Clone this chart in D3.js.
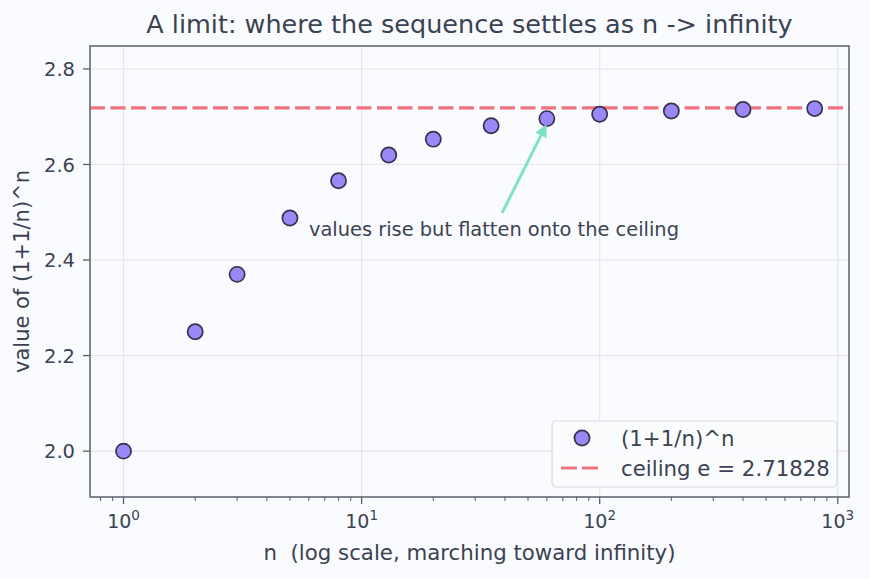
<!DOCTYPE html>
<html>
<head>
<meta charset="utf-8">
<script src="https://cdn.jsdelivr.net/npm/d3@7"></script>
<style>
  body { margin: 0; background: #fafbfe; }
  svg { display: block; font-family: "DejaVu Sans", sans-serif; }
</style>
</head>
<body>
<svg id="chart" width="870" height="579"></svg>
<script>
// values
var n_values   = [1, 2, 3, 5, 8, 13, 20, 35, 60, 100, 200, 400, 800]
var seq_values = [2.0, 2.25, 2.370, 2.488, 2.566, 2.620, 2.653, 2.681, 2.696, 2.705, 2.712, 2.715, 2.717]
var e_value    = 2.71828
var y_ticks    = [2.0, 2.2, 2.4, 2.6, 2.8]
var x_ticks    = [1, 10, 100, 1000]
var x_exps     = ["0", "1", "2", "3"]

var margin = {left: 90, right: 21, top: 46, bottom: 82},
    width  = 870 - margin.left - margin.right,
    height = 579 - margin.top - margin.bottom

var ink = "#3b4252", spine = "#5a5f6b", grid = "#e3e5ea"
var dash = "15,5.5"

var svg = d3.select("#chart")
var g = svg.append("g").attr("transform", "translate(" + margin.left + "," + margin.top + ")")

var x_scale = d3.scaleLog().domain([0.723, 1115]).range([0, width]),
    y_scale = d3.scaleLinear().domain([1.904, 2.848]).range([height, 0])

// grid
g.selectAll(".gx").data(x_ticks).enter().append("line")
  .attr("x1", d=>x_scale(d)).attr("x2", d=>x_scale(d))
  .attr("y1", 0).attr("y2", height)
  .style("stroke", grid).style("stroke-width", 1.1)
g.selectAll(".gy").data(y_ticks).enter().append("line")
  .attr("x1", 0).attr("x2", width)
  .attr("y1", d=>y_scale(d)).attr("y2", d=>y_scale(d))
  .style("stroke", grid).style("stroke-width", 1.1)

// minor ticks on log x
var minor = []
for (var dec = 0.1; dec < 1000; dec *= 10) {
	for (var k = 2; k <= 9; k++) {
		var v = dec * k
		if (v > x_scale.domain()[0] && v < x_scale.domain()[1]) minor.push(v)
	}
}
g.selectAll(".minor").data(minor).enter().append("line")
  .attr("x1", d=>x_scale(d)).attr("x2", d=>x_scale(d))
  .attr("y1", height).attr("y2", height + 4)
  .style("stroke", spine).style("stroke-width", 1)

// x axis major ticks and labels
var xt = g.selectAll(".xt").data(x_ticks).enter().append("g")
  .attr("transform", d=>"translate(" + x_scale(d) + "," + height + ")")
xt.append("line").attr("y2", 7).style("stroke", spine).style("stroke-width", 1.3)
var xl = xt.append("text").attr("y", 31).attr("text-anchor", "middle")
  .style("fill", ink).style("font-size", "19px")
xl.append("tspan").text("10")
xl.append("tspan").attr("dy", -8).style("font-size", "13.5px").text((d, i)=>x_exps[i])

// y axis ticks
var yt = g.selectAll(".yt").data(y_ticks).enter().append("g")
  .attr("transform", d=>"translate(0," + y_scale(d) + ")")
yt.append("line").attr("x2", -7).style("stroke", spine).style("stroke-width", 1.3)
yt.append("text").attr("x", -15).attr("dy", "0.36em").attr("text-anchor", "end")
  .style("fill", ink).style("font-size", "19.5px")
  .text(d=>d.toFixed(1))

// ceiling
g.append("line")
  .attr("x1", 0).attr("x2", width)
  .attr("y1", y_scale(e_value)).attr("y2", y_scale(e_value))
  .style("stroke", "#f0717f").style("stroke-width", 3.2)
  .style("stroke-dasharray", dash)

// points
g.selectAll(".pt").data(n_values).enter().append("circle")
  .attr("cx", d=>x_scale(d))
  .attr("cy", (d, i)=>y_scale(seq_values[i]))
  .attr("r", 7.6)
  .style("fill", "#9b87f5")
  .style("stroke", "#373150")
  .style("stroke-width", 1.7)

// annotation
var tip_x = x_scale(n_values[8]) - 2, tip_y = y_scale(seq_values[8]) + 9
var tail_x = 502 - margin.left, tail_y = 213 - margin.top
svg.append("defs").append("marker")
  .attr("id", "head").attr("viewBox", "0 0 10 10")
  .attr("refX", 7).attr("refY", 5)
  .attr("markerWidth", 4.5).attr("markerHeight", 4.5)
  .attr("orient", "auto")
  .append("path").attr("d", "M0,0 L10,5 L0,10 z").style("fill", "#7be3bf")
g.append("line")
  .attr("x1", tail_x).attr("y1", tail_y).attr("x2", tip_x).attr("y2", tip_y)
  .style("stroke", "#7be3bf").style("stroke-width", 2.8)
  .attr("marker-end", "url(#head)")
g.append("text")
  .attr("x", 309 - margin.left).attr("y", 236 - margin.top)
  .style("fill", ink).style("font-size", "19.4px")
  .text("values rise but flatten onto the ceiling")

// frame
g.append("rect").attr("width", width).attr("height", height)
  .style("fill", "none").style("stroke", spine).style("stroke-width", 1.5)

// legend
var lg = g.append("g").attr("transform", "translate(" + (552 - margin.left) + "," + (421 - margin.top) + ")")
lg.append("rect").attr("width", 285).attr("height", 66).attr("rx", 4)
  .style("fill", "#fafbfe").style("fill-opacity", 0.85)
  .style("stroke", "#d5d8de").style("stroke-width", 1.2)
lg.append("circle").attr("cx", 30).attr("cy", 17).attr("r", 7.6)
  .style("fill", "#9b87f5").style("stroke", "#373150").style("stroke-width", 1.7)
lg.append("line").attr("x1", 9).attr("x2", 51).attr("y1", 47).attr("y2", 47)
  .style("stroke", "#f0717f").style("stroke-width", 3.2).style("stroke-dasharray", "16,5")
lg.append("text").attr("x", 69).attr("y", 17).attr("dy", "0.36em")
  .style("fill", ink).style("font-size", "21.3px").text("(1+1/n)^n")
lg.append("text").attr("x", 69).attr("y", 47).attr("dy", "0.36em")
  .style("fill", ink).style("font-size", "21.3px").text("ceiling e = 2.71828")

// titles
svg.append("text").attr("x", margin.left + width / 2).attr("y", 33)
  .attr("text-anchor", "middle").style("fill", ink).style("font-size", "25.5px")
  .text("A limit: where the sequence settles as n -> infinity")
svg.append("text").attr("x", margin.left + width / 2).attr("y", 560)
  .attr("text-anchor", "middle").style("fill", ink).style("font-size", "21.3px")
  .style("white-space", "pre")
  .text("n  (log scale, marching toward infinity)")
svg.append("text")
  .attr("transform", "translate(29," + (margin.top + height / 2) + ") rotate(-90)")
  .attr("text-anchor", "middle").style("fill", ink).style("font-size", "21px")
  .text("value of (1+1/n)^n")
</script>
</body>
</html>
